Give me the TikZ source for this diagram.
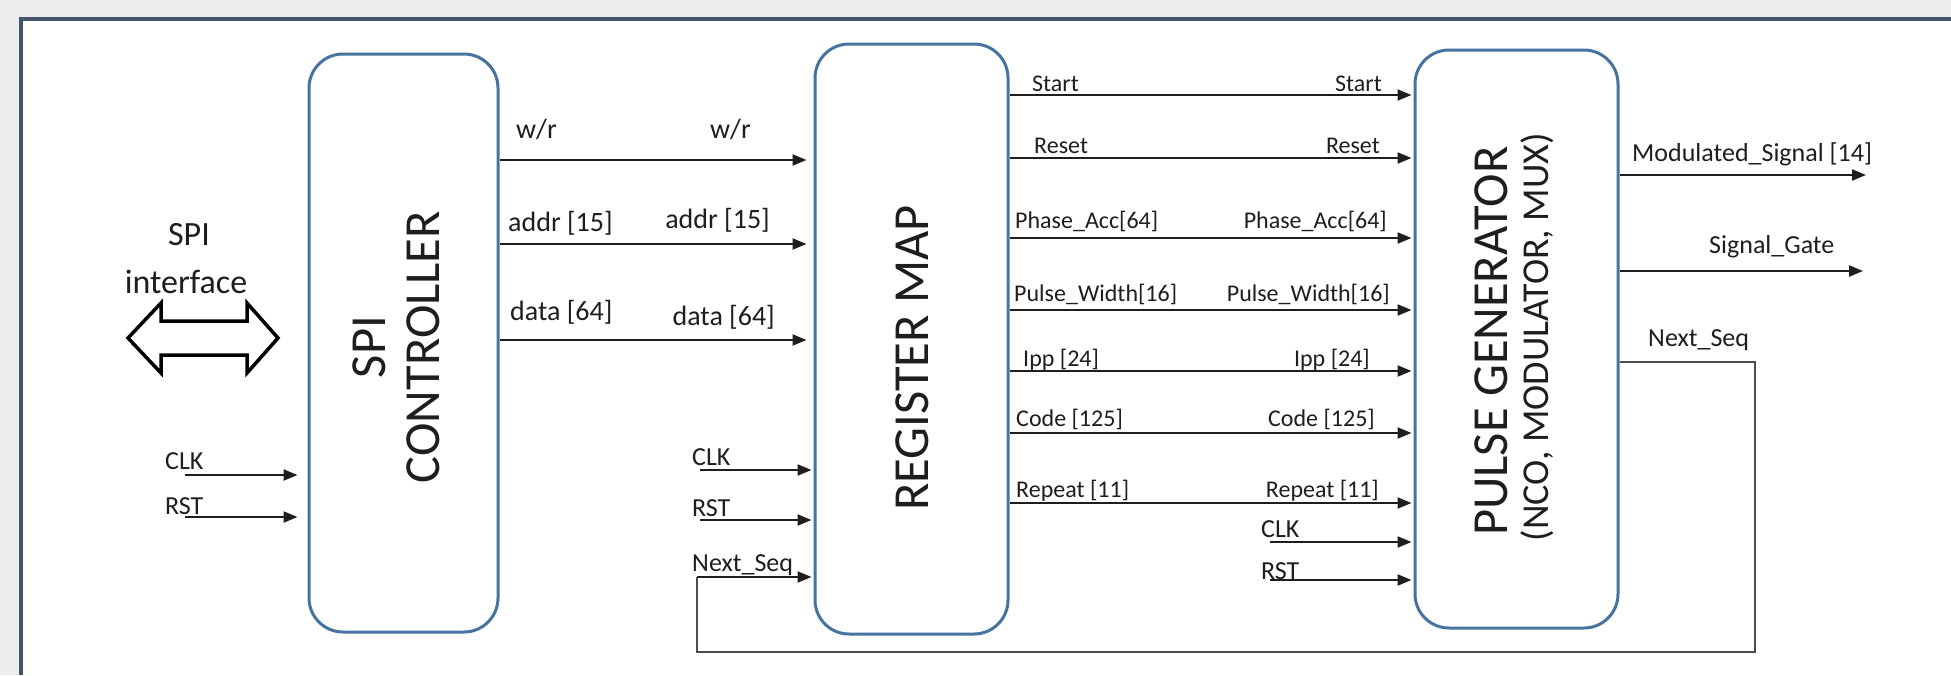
\documentclass[tikz,border=0pt]{standalone}
\usepackage{fontspec}
\setmainfont{Carlito}
\usetikzlibrary{arrows.meta}
\definecolor{boxblue}{RGB}{70,115,160}
\definecolor{framecol}{RGB}{68,84,106}
\definecolor{pagegray}{RGB}{238,238,238}
\definecolor{ink}{RGB}{30,30,30}

\begin{document}
\begin{tikzpicture}[x=1pt,y=-1pt,
  block/.style={draw=boxblue, line width=3pt, rounded corners=34pt, fill=white, inner sep=0pt},
  sig/.style={draw=ink, line width=2.2pt, -{Triangle[length=14pt,width=11pt]}},
  wire/.style={draw=black!70, line width=1.8pt},
  title/.style={font=\fontsize{50.5}{54}\selectfont, text=ink, align=center, inner sep=0pt, rotate=90},
  subtitle/.style={font=\fontsize{38}{40}\selectfont, text=ink, inner sep=0pt, rotate=90},
  lbsmall/.style={font=\fontsize{24}{28}\selectfont, text=ink, inner sep=0pt},
  lbmid/.style={font=\fontsize{26}{30}\selectfont, text=ink, inner sep=0pt},
  lbbig/.style={font=\fontsize{28}{32}\selectfont, text=ink, inner sep=0pt},
  lbspi/.style={font=\fontsize{34}{38}\selectfont, text=ink, inner sep=0pt},
]
% page and frame
\useasboundingbox (0,0) rectangle (1951,675);
\fill[pagegray] (0,0) rectangle (1951,675);
\fill[white] (21,19) rectangle (1951,675);
\draw[framecol, line width=4pt] (21,675) -- (21,19) -- (1951,19);

% blocks
\node[block, minimum width=189pt, minimum height=578pt] (spi) at (403.5,343) {};
\node[block, minimum width=193pt, minimum height=590pt] (reg) at (911.5,339) {};
\node[block, minimum width=203pt, minimum height=578pt] (pg) at (1516.5,339) {};

\node[title] (spit) at (396,347) {SPI\\CONTROLLER};
\node[title] (regt) at (912,358) {REGISTER MAP};
\node[title] (pgt) at (1491,341) {PULSE GENERATOR};
\node[subtitle] (pgs) at (1537,337) {(NCO, MODULATOR, MUX)};

% SPI interface
\node[lbspi, anchor=base] (spil1) at (189,245) {SPI};
\node[lbspi, anchor=base] (spil2) at (186,293) {interface};
\draw[black, line width=3.5pt, fill=white, line join=miter]
  (128,338) -- (161,303) -- (161,321) -- (247,321) -- (247,303) -- (278,338)
  -- (247,373) -- (247,355) -- (161,355) -- (161,373) -- cycle;

% clock / reset into SPI controller
\coordinate (sclk) at (185,475);
\coordinate (srst) at (185,517);
\node[lbmid, anchor=base west] (sclkl) at (165,469) {CLK};
\node[lbmid, anchor=base west] (srstl) at (165,514) {RST};
\draw[sig, shorten >=10pt] (sclk) -- (spi.west |- sclk);
\draw[sig, shorten >=10pt] (srst) -- (spi.west |- srst);

% SPI controller -> register map
\draw[sig, shorten >=7pt] (spi.east |- 0,160) -- (reg.west |- 0,160);
\draw[sig, shorten >=7pt] (spi.east |- 0,244) -- (reg.west |- 0,244);
\draw[sig, shorten >=7pt] (spi.east |- 0,340) -- (reg.west |- 0,340);
\node[lbbig, anchor=base west] (wr1) at (516,138) {w/r};
\node[lbbig, anchor=base east] (wr2) at (751,138) {w/r};
\node[lbbig, anchor=base west] (ad1) at (508,231) {addr [15]};
\node[lbbig, anchor=base east] (ad2) at (770,228) {addr [15]};
\node[lbbig, anchor=base west] (da1) at (510,320) {data [64]};
\node[lbbig, anchor=base east] (da2) at (775,325) {data [64]};

% clock / reset into register map
\coordinate (rclk) at (700,470);
\coordinate (rrst) at (700,520);
\node[lbmid, anchor=base west] (rclkl) at (692,465) {CLK};
\node[lbmid, anchor=base west] (rrstl) at (692,516) {RST};
\node[lbmid, anchor=base west] (rnsl) at (692,571) {Next\_Seq};
\draw[sig, shorten >=2pt] (rclk) -- (reg.west |- rclk);
\draw[sig, shorten >=2pt] (rrst) -- (reg.west |- rrst);

% register map -> pulse generator
\foreach \yy/\txt/\bl/\lx/\rx in {
  95/Start/91/1032/1382,
  158/Reset/153/1034/1380,
  238/Phase\_Acc[64]/228/1015/1387,
  310/Pulse\_Width[16]/301/1014/1390,
  371/Ipp [24]/366/1023/1370,
  433/Code [125]/426/1016/1375,
  503/Repeat [11]/497/1016/1379}{
  \draw[sig, shorten >=2pt] (reg.east |- 0,\yy) -- (pg.west |- 0,\yy);
  \node[lbsmall, anchor=base west] at (\lx,\bl) {\txt};
  \node[lbsmall, anchor=base east] at (\rx,\bl) {\txt};
}

% clock / reset into pulse generator
\coordinate (pclk) at (1270,542);
\coordinate (prst) at (1270,580);
\node[lbmid, anchor=base west] (pclkl) at (1261,537) {CLK};
\node[lbmid, anchor=base west] (prstl) at (1261,579) {RST};
\draw[sig, shorten >=2pt] (pclk) -- (pg.west |- pclk);
\draw[sig, shorten >=2pt] (prst) -- (pg.west |- prst);

% pulse generator outputs
\coordinate (modout) at (1866,175);
\coordinate (gateout) at (1863,271);
\draw[sig] (pg.east |- modout) -- (modout);
\draw[sig] (pg.east |- gateout) -- (gateout);
\node[lbmid, anchor=base west] (modl) at (1632,161) {Modulated\_Signal [14]};
\node[lbmid, anchor=base west] (gatel) at (1709,253) {Signal\_Gate};

% Next_Seq feedback loop
\coordinate (fbR) at (1755,652);
\coordinate (fbL) at (697,652);
\node[lbmid, anchor=base west] (pnsl) at (1648,346) {Next\_Seq};
\draw[wire] (pg.east |- 0,362) -| (fbR) -- (fbL) -- (fbL |- 0,577);
\draw[sig, shorten >=2pt] (fbL |- 0,577) -- (reg.west |- 0,577);
\end{tikzpicture}
\end{document}
